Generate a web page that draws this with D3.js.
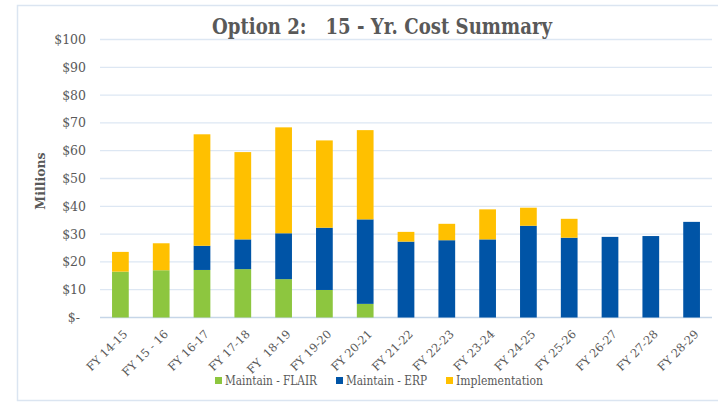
<!DOCTYPE html>
<html><head><meta charset="utf-8">
<script src="https://cdn.jsdelivr.net/npm/d3@7/dist/d3.min.js"></script>
<style>
html,body{margin:0;padding:0;background:#fff;}
svg text{font-family:"DejaVu Serif","Liberation Serif",serif;}
</style>
</head><body>
<svg id="c" width="718" height="402"></svg>
<script>
const categories = ["FY 14-15","FY 15 - 16","FY 16-17","FY 17-18","FY  18-19","FY 19-20","FY 20-21","FY 21-22","FY 22-23","FY 23-24","FY 24-25","FY 25-26","FY 26-27","FY 27-28","FY 28-29"];
const maintainFLAIR = [16.5,17.0,17.1,17.4,13.8,9.9,4.9,0,0,0,0,0,0,0,0];
const maintainERP   = [0,0,8.7,10.7,16.5,22.4,30.4,27.3,27.8,28.1,33.0,28.7,29.0,29.3,34.4];
const implementation= [7.1,9.7,40.1,31.4,38.1,31.4,32.1,3.5,5.9,10.8,6.5,6.8,0,0,0];
const seriesNames = ["Maintain - FLAIR","Maintain - ERP","Implementation"];
const yTicks = [0,10,20,30,40,50,60,70,80,90,100];
const colors = ["#8DC63F","#0054A6","#FFC000"];

const svg = d3.select("#c");
const textColor = "#595959";
const serif = "DejaVu Serif, Liberation Serif, serif";

// chart border
svg.append("path").attr("d","M718,5.5 H17.5 V400.5 H718").attr("fill","none").attr("stroke","#dbe5f1").attr("stroke-width",1.5);

const x = d3.scaleBand().domain(categories).range([100,712]).paddingInner(0.59).paddingOuter(0.295);
const y = d3.scaleLinear().domain([0,100]).range([317.5,39.5]);

// gridlines
svg.append("g").selectAll("line").data(yTicks).join("line")
  .attr("x1",100).attr("x2",712)
  .attr("y1",d=>y(d)).attr("y2",d=>y(d))
  .attr("stroke",d=>d===0?"#c6d6e8":"#dde7f3").attr("stroke-width",1.3);

// y axis labels
const ya = svg.append("g").attr("transform","translate(86,0)")
  .call(d3.axisLeft(y).tickValues(yTicks).tickSize(0).tickPadding(0).tickFormat(d=>d===0?"$-":"$"+d));
ya.select(".domain").remove();
ya.selectAll("text").attr("fill",textColor).style("font-size","12.5px").style("font-family",serif)
  .attr("dx",d=>d===0?-6:0);

// stacked data
const rows = categories.map((c,i)=>({cat:c, s0:maintainFLAIR[i], s1:maintainERP[i], s2:implementation[i]}));
const stack = d3.stack().keys(["s0","s1","s2"])(rows);
svg.append("g").selectAll("g").data(stack).join("g").attr("fill",(d,i)=>colors[i])
  .selectAll("rect").data(d=>d).join("rect")
  .attr("x",d=>x(d.data.cat)).attr("width",x.bandwidth())
  .attr("y",d=>y(d[1])).attr("height",d=>Math.max(0,y(d[0])-y(d[1])));

// x axis labels
const xa = svg.append("g").attr("transform","translate(0,322)")
  .call(d3.axisBottom(x).tickSize(0).tickPadding(0));
xa.select(".domain").remove();
xa.selectAll("text").attr("fill",textColor).style("font-size","11.5px").style("font-family",serif)
  .attr("text-anchor","end").attr("dy","0.71em").attr("y",0)
  .attr("transform","translate(2,7) rotate(-45)").style("white-space","pre");

// title
svg.append("text").attr("x",382).attr("y",34).attr("text-anchor","middle")
  .attr("fill",textColor).style("font-size","22px").style("font-weight","bold").style("font-family",serif)
  .attr("textLength",340).attr("lengthAdjust","spacingAndGlyphs")
  .style("white-space","pre").text("Option 2:   15 - Yr. Cost Summary");

// y title
svg.append("text").attr("transform","translate(45,181) rotate(-90)").attr("text-anchor","middle")
  .attr("fill",textColor).style("font-size","12.5px").style("font-weight","bold").style("font-family",serif).text("Millions");

// legend
const legX = [215,336,446];
const legW = [92,81,87];
const lg = svg.append("g").selectAll("g").data(seriesNames).join("g")
  .attr("transform",(d,i)=>`translate(${legX[i]},377)`);
lg.append("rect").attr("width",7).attr("height",7).attr("fill",(d,i)=>colors[i]);
lg.append("text").attr("x",10).attr("y",7.5).attr("fill",textColor)
  .style("font-size","12px").style("font-family",serif)
  .attr("textLength",(d,i)=>legW[i]).attr("lengthAdjust","spacingAndGlyphs").text(d=>d);
</script>
</body></html>
